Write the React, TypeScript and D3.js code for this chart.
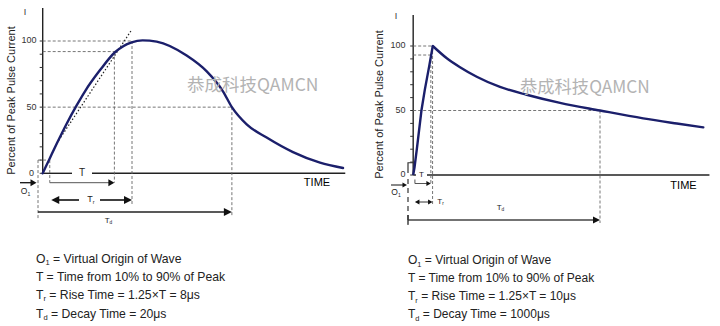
import React from "react";
import * as d3 from "d3";

// ---------- data ----------
const tickValues = [0, 10, 20, 30, 40, 50, 60, 70, 80, 90, 100];
const tickLabels = [0, 50, 100];

// Left chart (8/20 µs wave), time in µs from virtual origin O1
const leftCurveT = [0.4, 0.96, 1.6, 2.44, 3.3, 4.0, 5.28, 6.55, 7.97, 8.9, 10.1, 12.65, 14.36, 15.74, 16.5, 17.76, 19.46, 21.7, 24.0, 25.96];
const leftCurveV = [0, 10.5, 22.5, 37.5, 51.5, 62, 78, 91.5, 99, 100.5, 99.5, 89, 77, 62, 50, 37, 27, 16, 8, 4];
const leftTangentT = [1.6, 8.0];
const leftTangentV = [22.7, 108.8];
const leftMarks = { o1: 0, axis: 0.4, t10: 1.0, t90: 6.5, tr: 8.0, td: 16.5 };
const leftLevels = { p10: 10, p90: 92, p50: 50, p100: 100 };

// Right chart (10/1000 µs wave), schematic time units
const rightRiseT = [2.7, 3.4, 4.6, 7.0, 8.75, 11.0, 12.9];
const rightRiseV = [0, 6, 20, 50, 66, 84, 100];
const rightDecayT = [12.9, 20.2, 27.1, 35.8, 47.9, 61.8, 79.2, 100, 122.5, 140, 153.8];
const rightDecayV = [100, 90.5, 83.6, 76.2, 68.3, 62.2, 55.9, 50, 43.9, 39.9, 36.9];
const rightMarks = { o1: 0, axis: 2.7, t10: 3.6, t90: 11.9, tr: 12.8, td: 100 };
const rightLevels = { p10: 9.5, p90: 93, p50: 50, p100: 100 };

const yTitle = "Percent of Peak Pulse Current";
const watermark = "恭成科技QAMCN";
const leftNotes = ["= Virtual Origin of Wave", "T = Time from 10% to 90% of Peak", "= Rise Time = 1.25×T = 8μs", "= Decay Time = 20μs"];
const rightNotes = ["= Virtual Origin of Wave", "T = Time from 10% to 90% of Peak", "= Rise Time = 1.25×T = 10μs", "= Decay Time = 1000μs"];

const FONT = "'Liberation Sans', Arial, sans-serif";
const CURVE = "#1b1f6b";
const DASH = "#666";

function head(x: number, y: number, dir: number, len: number, half: number, fill = "#111") {
  return <polygon points={`${x},${y} ${x - dir * len},${y - half} ${x - dir * len},${y + half}`} fill={fill} />;
}

function Sub({ base, sub, x, y, size }: { base: string; sub: string; x: number; y: number; size: number }) {
  return (
    <text x={x} y={y} fontSize={size} fontFamily={FONT} fill="#222" textAnchor="middle" dominantBaseline="middle">
      {base}
      <tspan fontSize={size * 0.6} dy={size * 0.3}>{sub}</tspan>
    </text>
  );
}

function Notes({ x, ys, lines, fs }: { x: number; ys: number[]; lines: string[]; fs: number }) {
  const sub = (b: string, s: string) => (
    <>
      {b}
      <tspan fontSize={fs * 0.62} dy={2.5}>{s}</tspan>
      <tspan dy={-2.5}> </tspan>
    </>
  );
  return (
    <g fontFamily={FONT} fontSize={fs} fill="#222">
      <text x={x} y={ys[0]}>{sub("O", "1")}{lines[0]}</text>
      <text x={x} y={ys[1]}>{lines[1]}</text>
      <text x={x} y={ys[2]}>{sub("T", "r")}{lines[2]}</text>
      <text x={x} y={ys[3]}>{sub("T", "d")}{lines[3]}</text>
    </g>
  );
}

function LeftChart() {
  const x = d3.scaleLinear().domain([0, 26]).range([38, 343.5]);
  const y = d3.scaleLinear().domain([0, 100]).range([173.3, 41]);
  const m = leftMarks;
  const L = leftLevels;
  const ax = x(m.axis);
  const line = d3.line<number>().x((_, i) => x(leftCurveT[i])).y((v) => y(v)).curve(d3.curveMonotoneX);
  const yT = 182.7, yTr = 200, yTd = 212;
  return (
    <g>
      <line x1={ax} x2={ax} y1={y(125)} y2={y(0)} stroke="#222" strokeWidth={1.4} />
      {tickValues.map((v) => (
        <line key={v} x1={ax - 3} x2={ax} y1={y(v)} y2={y(v)} stroke="#333" strokeWidth={1} />
      ))}
      {tickLabels.map((v) => (
        <text key={v} x={v === 0 ? 34 : 36.5} y={y(v)} fontSize={9} fontFamily={FONT} fill="#333" textAnchor="end" dominantBaseline="middle">{v}</text>
      ))}
      <text x={25} y={12.5} fontSize={9} fontFamily={FONT} fill="#333" textAnchor="middle" dominantBaseline="middle">I</text>
      <text transform={`translate(11.7,100.5) rotate(-90)`} fontSize={11} fontFamily={FONT} fill="#222" textAnchor="middle" dominantBaseline="middle">{yTitle}</text>
      <line x1={ax} x2={72} y1={y(0)} y2={y(0)} stroke="#222" strokeWidth={1.4} />
      <line x1={92} x2={x(26.15)} y1={y(0)} y2={y(0)} stroke="#222" strokeWidth={1.4} />
      <text x={82} y={y(0) + 0.5} fontSize={10} fontFamily={FONT} fill="#222" textAnchor="middle" dominantBaseline="middle">T</text>
      <text x={317} y={183.5} fontSize={11} fontFamily={FONT} fill="#000" textAnchor="middle" dominantBaseline="middle">TIME</text>
      <g stroke={DASH} strokeWidth={0.9} strokeDasharray="3,2" fill="none">
        <line x1={ax} x2={x(m.tr)} y1={y(L.p100)} y2={y(L.p100)} />
        <line x1={ax} x2={x(m.t90)} y1={y(L.p90)} y2={y(L.p90)} />
        <line x1={ax} x2={x(m.td)} y1={y(L.p50)} y2={y(L.p50)} />
        <line x1={x(m.t90)} x2={x(m.t90)} y1={y(L.p90)} y2={yT} />
        <line x1={x(m.tr)} x2={x(m.tr)} y1={y(L.p100)} y2={205} />
        <line x1={x(m.td)} x2={x(m.td)} y1={y(L.p50)} y2={216} />
        <line x1={x(m.o1)} x2={x(m.t10)} y1={y(L.p10)} y2={y(L.p10)} />
        <line x1={x(m.o1)} x2={x(m.o1)} y1={y(L.p10)} y2={219} />
        <line x1={x(m.t10)} x2={x(m.t10)} y1={y(L.p10)} y2={yT} />
      </g>
      <line x1={x(leftTangentT[0])} y1={y(leftTangentV[0])} x2={x(leftTangentT[1])} y2={y(leftTangentV[1])} stroke="#222" strokeWidth={1.2} strokeDasharray="1.5,2" />
      <path d={line(leftCurveV) || ""} fill="none" stroke={CURVE} strokeWidth={2.4} strokeLinecap="round" />
      <line x1={x(m.t10)} x2={x(m.t90) - 5} y1={yT} y2={yT} stroke="#555" strokeWidth={1} />
      {head(x(m.t90), yT, 1, 6, 3.5)}
      <line x1={x(m.t10) + 6} x2={79} y1={yTr} y2={yTr} stroke="#111" strokeWidth={1.6} />
      <line x1={100} x2={x(m.tr) - 6} y1={yTr} y2={yTr} stroke="#111" strokeWidth={1.6} />
      {head(x(m.t10) + 1.5, yTr, -1, 8, 4)}
      {head(x(m.tr), yTr, 1, 8, 4)}
      <Sub base="T" sub="r" x={91} y={yTr} size={9} />
      <line x1={x(m.o1)} x2={x(m.td) - 6} y1={yTd} y2={yTd} stroke="#222" strokeWidth={1.6} />
      {head(x(m.td), yTd, 1, 8, 4)}
      <Sub base="T" sub="d" x={108.5} y={221} size={8} />
      <line x1={20} x2={32} y1={yT} y2={yT} stroke="#111" strokeWidth={1.3} />
      {head(36.5, yT, 1, 6, 3.5)}
      <Sub base="O" sub="1" x={25.5} y={192} size={8.5} />
      <text x={187} y={86} fontSize={17.5} fontFamily="'Noto Sans CJK SC', sans-serif" fill="#b3b3b3" dominantBaseline="middle">{watermark}</text>
    </g>
  );
}

function RightChart() {
  const x = d3.scaleLinear().domain([0, 100]).range([408, 600]);
  const y = d3.scaleLinear().domain([0, 100]).range([175, 46]);
  const m = rightMarks;
  const L = rightLevels;
  const ax = x(m.axis);
  const rise = d3.line<number>().x((_, i) => x(rightRiseT[i])).y((v) => y(v)).curve(d3.curveLinear);
  const decay = d3.line<number>().x((_, i) => x(rightDecayT[i])).y((v) => y(v)).curve(d3.curveMonotoneX);
  const yT = 183.5, yTr = 202, yTd = 220;
  return (
    <g>
      <line x1={ax} x2={ax} y1={y(124)} y2={y(0)} stroke="#222" strokeWidth={1.4} />
      {tickValues.map((v) => (
        <line key={v} x1={ax - 3} x2={ax} y1={y(v)} y2={y(v)} stroke="#333" strokeWidth={1} />
      ))}
      {tickLabels.map((v) => (
        <text key={v} x={405.5} y={y(v)} fontSize={9} fontFamily={FONT} fill="#333" textAnchor="end" dominantBaseline="middle">{v}</text>
      ))}
      <text x={396} y={17} fontSize={9} fontFamily={FONT} fill="#333" textAnchor="middle" dominantBaseline="middle">I</text>
      <text transform={`translate(380,104.5) rotate(-90)`} fontSize={11} fontFamily={FONT} fill="#222" textAnchor="middle" dominantBaseline="middle">{yTitle}</text>
      <line x1={ax} x2={416} y1={y(0)} y2={y(0)} stroke="#222" strokeWidth={1.4} />
      <line x1={427} x2={x(157)} y1={y(0)} y2={y(0)} stroke="#222" strokeWidth={1.4} />
      <text x={421.5} y={y(0) - 0.5} fontSize={8} fontFamily={FONT} fill="#222" textAnchor="middle" dominantBaseline="middle">T</text>
      <text x={683.5} y={186} fontSize={11} fontFamily={FONT} fill="#000" textAnchor="middle" dominantBaseline="middle">TIME</text>
      <g stroke={DASH} strokeWidth={0.9} strokeDasharray="3,2" fill="none">
        <line x1={ax} x2={x(m.tr)} y1={y(L.p100)} y2={y(L.p100)} />
        <line x1={ax} x2={x(m.t90)} y1={y(L.p90)} y2={y(L.p90)} />
        <line x1={ax} x2={x(m.td)} y1={y(L.p50)} y2={y(L.p50)} />
        <line x1={x(m.t90)} x2={x(m.t90)} y1={y(L.p90)} y2={yT} />
        <line x1={x(m.tr)} x2={x(m.tr)} y1={y(L.p100)} y2={206} />
        <line x1={x(m.td)} x2={x(m.td)} y1={y(L.p50)} y2={223} />
      </g>
      <g stroke="#333" strokeWidth={1.2} fill="none">
        <polyline points={`${x(m.o1)},${y(0) - 2} ${x(m.o1)},${y(L.p10)} ${ax + 1},${y(L.p10)}`} />
        <line x1={x(m.o1)} x2={x(m.o1)} y1={y(0) + 4} y2={225} strokeDasharray="5,4" />
      </g>
      <path d={rise(rightRiseV) || ""} fill="none" stroke={CURVE} strokeWidth={2.4} strokeLinejoin="miter" />
      <path d={decay(rightDecayV) || ""} fill="none" stroke={CURVE} strokeWidth={2.4} strokeLinecap="round" />
      <line x1={x(m.t10)} x2={x(m.t90) - 4} y1={yT} y2={yT} stroke="#555" strokeWidth={1} />
      <line x1={x(m.t10)} x2={x(m.t10)} y1={yT - 4} y2={yT} stroke="#555" strokeWidth={1} />
      {head(x(m.t90), yT, 1, 4.5, 2.5)}
      <line x1={x(m.t10) + 4} x2={x(m.tr) - 4} y1={yTr} y2={yTr} stroke="#333" strokeWidth={1} />
      {head(x(m.t10), yTr, -1, 4.5, 2.5)}
      {head(x(m.tr), yTr, 1, 4.5, 2.5)}
      <Sub base="T" sub="r" x={440.5} y={yTr} size={8} />
      <line x1={x(m.o1)} x2={x(m.td) - 6} y1={yTd} y2={yTd} stroke="#444" strokeWidth={1.4} />
      <line x1={x(m.o1)} x2={x(m.o1)} y1={yTd - 5} y2={yTd + 4} stroke="#333" strokeWidth={1.4} />
      {head(x(m.td), yTd, 1, 7, 3.5)}
      <Sub base="T" sub="d" x={500.5} y={208} size={8} />
      <line x1={391} x2={403} y1={185} y2={185} stroke="#111" strokeWidth={1} />
      {head(407, 185, 1, 4.5, 2.5)}
      <Sub base="O" sub="1" x={396} y={193} size={8.5} />
      <text x={520} y={88} fontSize={17.3} fontFamily="'Noto Sans CJK SC', sans-serif" fill="#b3b3b3" dominantBaseline="middle">{watermark}</text>
    </g>
  );
}

export default function App() {
  return (
    <svg width={720} height={326} style={{ position: "absolute", left: 0, top: 0, background: "#fff" }}>
      <rect width={720} height={326} fill="#fff" />
      <LeftChart />
      <RightChart />
      <Notes x={36} ys={[262.5, 281, 298.5, 317.5]} lines={leftNotes} fs={12.2} />
      <Notes x={408} ys={[264, 281.5, 300, 318]} lines={rightNotes} fs={12} />
    </svg>
  );
}
